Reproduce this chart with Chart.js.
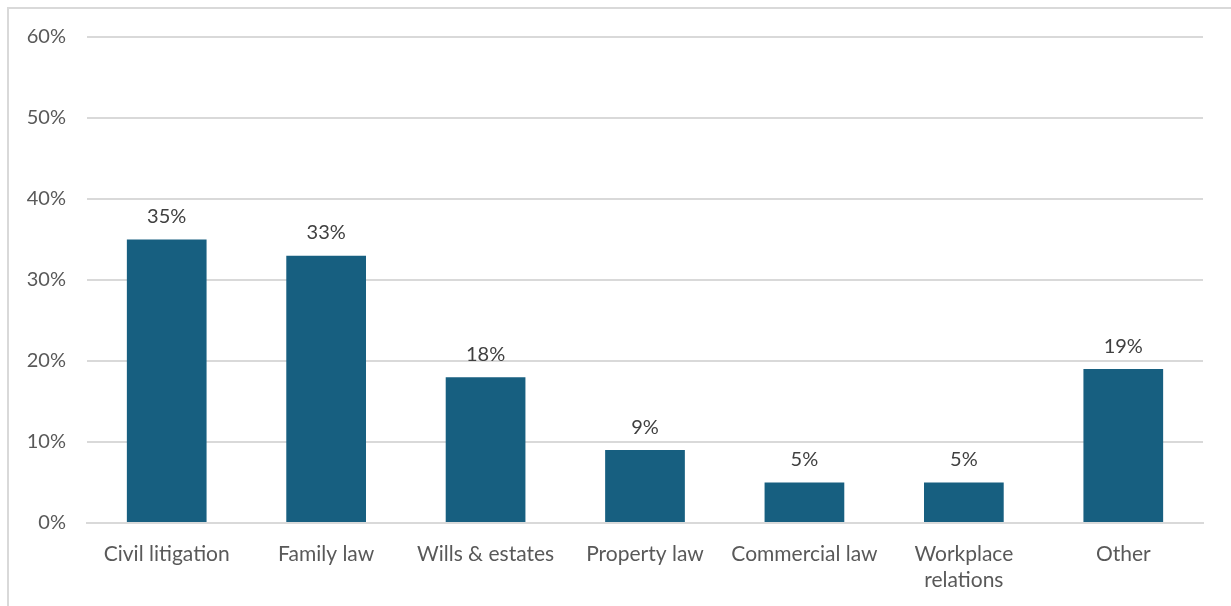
<!DOCTYPE html>
<html>
<head>
<meta charset="utf-8">
<script src="https://cdn.jsdelivr.net/npm/chart.js@4"></script>
<style>
  html, body { margin: 0; padding: 0; background: #fff; overflow: hidden; }
  #wrap { position: relative; width: 1231px; height: 606px; }
  #frame {
    position: absolute; left: 7px; top: 7px; width: 1300px; height: 700px;
    border: 2px solid #d9d9d9; pointer-events: none;
  }
</style>
</head>
<body>
<div id="wrap">
  <canvas id="areaChart" width="1231" height="606"></canvas>
  <div id="frame"></div>
</div>
<script>
// Share of matters by area of law
const categories = ['Civil litigation', 'Family law', 'Wills & estates', 'Property law',
  'Commercial law', ['Workplace', 'relations'], 'Other'];
const shares = [35, 33, 18, 9, 5, 5, 19];
const yTicks = [0, 10, 20, 30, 40, 50, 60];

const FONT = 'Lato, "Open Sans", sans-serif';

// value labels above each bar
const barLabels = {
  id: 'barLabels',
  afterDatasetsDraw(chart) {
    const ctx = chart.ctx;
    const meta = chart.getDatasetMeta(0);
    ctx.save();
    ctx.font = '20px ' + FONT;
    ctx.fillStyle = '#404040';
    ctx.textAlign = 'center';
    ctx.textBaseline = 'bottom';
    meta.data.forEach(function(bar, i) {
      ctx.fillText(shares[i] + '%', bar.x, bar.y - 13);
    });
    ctx.restore();
  }
};

new Chart(document.getElementById('areaChart'), {
  type: 'bar',
  data: {
    labels: categories,
    datasets: [{
      data: shares,
      backgroundColor: '#175f80',
      barPercentage: 0.5,
      categoryPercentage: 1
    }]
  },
  options: {
    responsive: false,
    animation: false,
    layout: { padding: { top: 37, right: 28, left: 0, bottom: 0 } },
    plugins: {
      legend: { display: false },
      tooltip: { enabled: false }
    },
    scales: {
      x: {
        grid: { display: false, drawTicks: false },
        border: { color: '#d9d9d9', width: 2 },
        ticks: {
          color: '#595959',
          font: { family: FONT, size: 21, lineHeight: 1.25 },
          padding: 18,
          maxRotation: 0,
          autoSkip: false
        },
        afterFit(axis) { axis.height = 83; }
      },
      y: {
        min: 0,
        max: 60,
        afterBuildTicks(axis) { axis.ticks = yTicks.map(v => ({ value: v })); },
        grid: { color: '#d9d9d9', lineWidth: 2, drawTicks: false },
        border: { display: false },
        ticks: {
          color: '#595959',
          font: { family: FONT, size: 20 },
          padding: 21,
          callback: v => v + '%'
        },
        afterFit(axis) { axis.width = 87; }
      }
    }
  },
  plugins: [barLabels]
});
</script>
</body>
</html>
